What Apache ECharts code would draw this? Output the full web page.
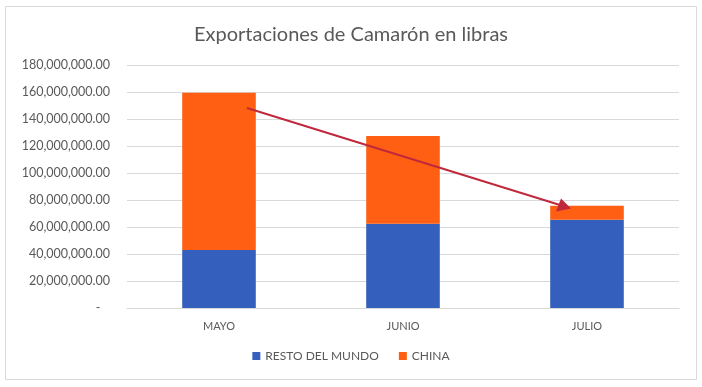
<!DOCTYPE html>
<html><head><meta charset="utf-8">
<script src="https://cdn.jsdelivr.net/npm/echarts@6/dist/echarts.min.js"></script>
<style>html,body{margin:0;padding:0;background:#fff;}#c{width:702px;height:387px;}</style>
</head><body><div id="c"></div>
<script>
const categories = ['MAYO', 'JUNIO', 'JULIO'];
const restoDelMundo = [43000000, 62500000, 65400000];
const china = [116500000, 65000000, 10400000];
const yTicks = [0, 20000000, 40000000, 60000000, 80000000, 100000000, 120000000, 140000000, 160000000, 180000000];

const chart = echarts.init(document.getElementById('c'), null, {renderer: 'canvas'});
const font = 'Lato, "Open Sans", sans-serif';
function fmt(v) {
  if (v === 0) return '-   ';
  return v.toLocaleString('en-US', {minimumFractionDigits: 2, maximumFractionDigits: 2});
}
chart.setOption({
  animation: false,
  backgroundColor: '#fff',
  title: {
    text: 'Exportaciones de Camarón en libras',
    left: 'center', top: 20,
    textStyle: {fontFamily: font, fontSize: 20, fontWeight: 'normal', color: '#595959'}
  },
  legend: {
    bottom: 20, left: 'center',
    itemWidth: 8, itemHeight: 8, itemGap: 20,
    icon: 'rect',
    textStyle: {fontFamily: font, fontSize: 12, color: '#595959'},
    data: ['RESTO DEL MUNDO', 'CHINA']
  },
  grid: {left: 127, right: 23, top: 65, bottom: 79},
  xAxis: {
    type: 'category', data: categories,
    axisLine: {show: true, lineStyle: {color: '#d9d9d9', width: 1}},
    axisTick: {show: false},
    axisLabel: {fontFamily: font, fontSize: 11, color: '#595959', margin: 13}
  },
  yAxis: {
    type: 'value', min: yTicks[0], max: yTicks[yTicks.length - 1], interval: 20000000,
    axisLine: {show: false}, axisTick: {show: false},
    splitLine: {lineStyle: {color: '#d9d9d9', width: 1}},
    axisLabel: {fontFamily: font, fontSize: 12.5, color: '#595959', margin: 17, formatter: fmt}
  },
  series: [
    {name: 'RESTO DEL MUNDO', type: 'bar', stack: 'a', data: restoDelMundo, barWidth: '40%',
     itemStyle: {color: '#355FBD'}},
    {name: 'CHINA', type: 'bar', stack: 'a', data: china, barWidth: '40%',
     itemStyle: {color: '#FE5F13'}}
  ],
  graphic: [
    {type: 'rect', shape: {x: 5.5, y: 6.5, width: 691, height: 373}, style: {fill: 'none', stroke: '#d9d9d9', lineWidth: 1}, z: -1},
    {type: 'line', shape: {x1: 247, y1: 108, x2: 560, y2: 205}, style: {stroke: '#C0283C', lineWidth: 2}, z: 10},
    {type: 'polygon', shape: {points: [[571, 208.5], [556, 211.5], [561, 198.5]]}, style: {fill: '#C0283C'}, z: 10}
  ]
});
</script></body></html>
